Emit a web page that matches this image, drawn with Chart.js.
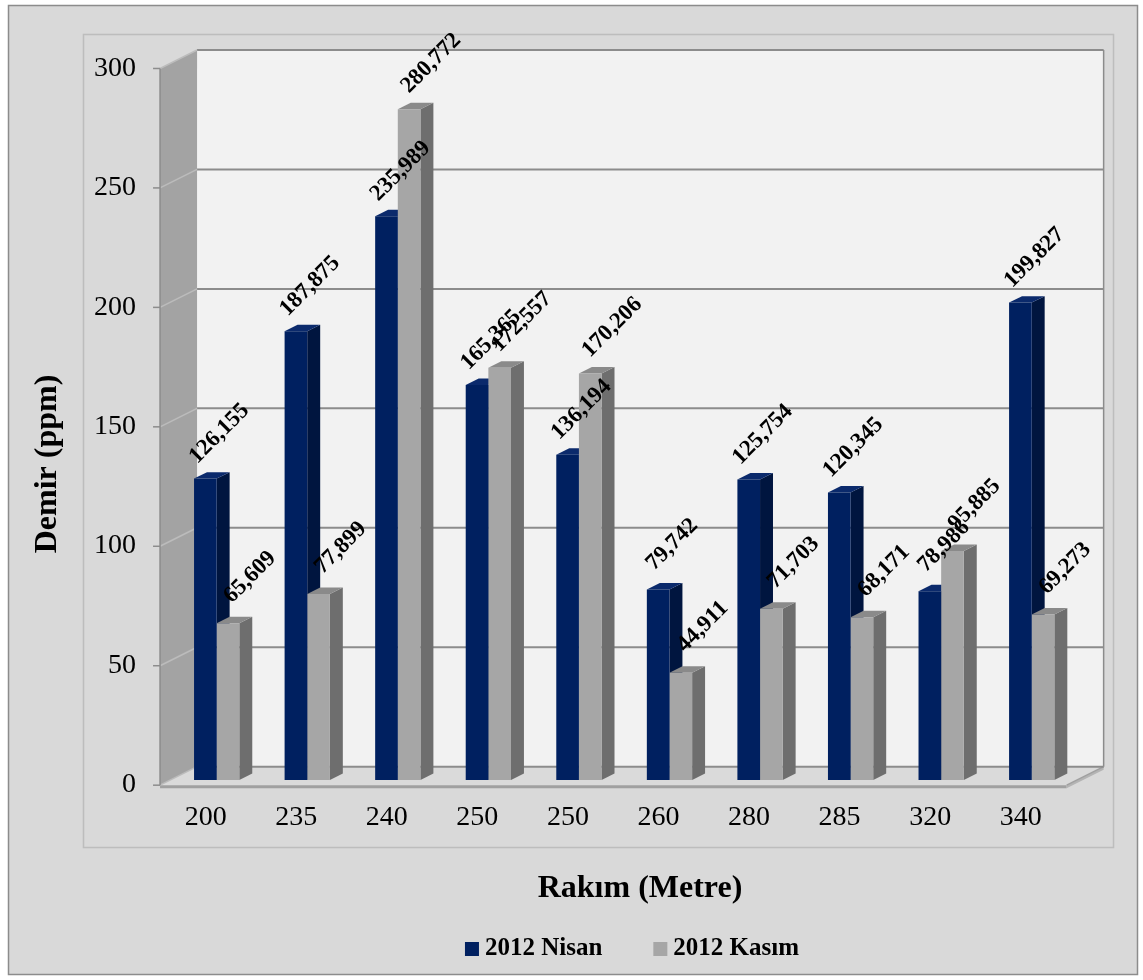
<!DOCTYPE html>
<html>
<head>
<meta charset="utf-8">
<script src="https://cdn.jsdelivr.net/npm/chart.js@4.4.1/dist/chart.umd.min.js"></script>
<style>
  html, body { margin: 0; padding: 0; background: #ffffff; }
  canvas { display: block; }
</style>
</head>
<body>
<canvas id="chart" width="1143" height="980"></canvas>
<script>
// Altitude categories (metres) and iron concentrations (ppm)
const categories = ['200', '235', '240', '250', '250', '260', '280', '285', '320', '340'];
const nisan2012 = [126.155, 187.875, 235.989, 165.365, 136.194, 79.742, 125.754, 120.345, 78.986, 199.827];
const kasim2012 = [65.609, 77.899, 280.772, 172.557, 170.206, 44.911, 71.703, 68.171, 95.885, 69.273];
const seriesNames = ['2012 Nisan', '2012 Kasım'];
const yMin = 0, yMax = 300, yStep = 50;
const xTitle = 'Rakım (Metre)';
const yTitle = 'Demir (ppm)';

const SERIF = '"Liberation Serif", "Times New Roman", serif';

// face colours of each series' columns: front, right side, top
const FACES = [
  { front: '#002060', side: '#00153f', top: '#0b2a6c' },
  { front: '#a6a6a6', side: '#6e6e6e', top: '#8a8a8a' }
];
// where each series' slanted value label sits relative to the column top
const LABEL_SHIFT = [{ x: 14, y: -45 }, { x: 22, y: -46 }];

// oblique projection of the box depth
const DEPTH = { dx: 37, dy: -18.5 };
const BAR_PLANE = 0.28;   // where the columns sit inside the box depth
const BAR_DEPTH = 0.35;   // column depth as a share of the box depth
const FRONT = { x: -BAR_PLANE * DEPTH.dx, y: -BAR_PLANE * DEPTH.dy };
const BACK = { x: (1 - BAR_PLANE) * DEPTH.dx, y: (1 - BAR_PLANE) * DEPTH.dy };

function poly(ctx, pts, fill, stroke, lw) {
  ctx.beginPath();
  ctx.moveTo(pts[0][0], pts[0][1]);
  for (let i = 1; i < pts.length; i++) ctx.lineTo(pts[i][0], pts[i][1]);
  ctx.closePath();
  if (fill) { ctx.fillStyle = fill; ctx.fill(); }
  if (stroke) { ctx.strokeStyle = stroke; ctx.lineWidth = lw || 1; ctx.stroke(); }
}

function fmt(v) {
  return v.toFixed(3).replace('.', ',');
}

const box3d = {
  id: 'box3d',
  beforeDraw(chart) {
    const { ctx, chartArea: a, scales: { y } } = chart;
    ctx.save();
    ctx.fillStyle = '#ffffff';
    ctx.fillRect(0, 0, chart.width, chart.height);
    // chart area and plot area frames
    ctx.fillStyle = '#d9d9d9';
    ctx.fillRect(8, 5, 1130, 970);
    ctx.strokeStyle = '#8c8c8c';
    ctx.lineWidth = 1.5;
    ctx.strokeRect(8.5, 5.5, 1129, 969);
    ctx.strokeStyle = '#bdbdbd';
    ctx.lineWidth = 1.5;
    ctx.strokeRect(83.5, 34.5, 1030, 813);

    const L = a.left - 1, R = a.right;
    const y0 = y.getPixelForValue(yMin), yT = y.getPixelForValue(yMax);

    // back wall
    poly(ctx, [[L + BACK.x, yT + BACK.y], [R + BACK.x, yT + BACK.y], [R + BACK.x, y0 + BACK.y], [L + BACK.x, y0 + BACK.y]], '#f2f2f2');
    // left side wall
    poly(ctx, [[L + FRONT.x, yT + FRONT.y], [L + BACK.x, yT + BACK.y], [L + BACK.x, y0 + BACK.y], [L + FRONT.x, y0 + FRONT.y]], '#a3a3a3');
    // floor slab: top, front edge, right edge
    poly(ctx, [[L + FRONT.x, y0 + FRONT.y], [L + BACK.x, y0 + BACK.y], [R + BACK.x, y0 + BACK.y], [R + FRONT.x, y0 + FRONT.y]], '#dadada');
    poly(ctx, [[L + FRONT.x, y0 + FRONT.y], [R + FRONT.x, y0 + FRONT.y], [R + FRONT.x, y0 + FRONT.y + 3], [L + FRONT.x, y0 + FRONT.y + 3]], '#a0a0a0');
    poly(ctx, [[R + FRONT.x, y0 + FRONT.y], [R + BACK.x, y0 + BACK.y], [R + BACK.x, y0 + BACK.y + 3], [R + FRONT.x, y0 + FRONT.y + 3]], '#b4b4b4');
    ctx.strokeStyle = '#a0a0a0';
    ctx.lineWidth = 1.5;
    ctx.beginPath();
    ctx.moveTo(R + FRONT.x, y0 + FRONT.y);
    ctx.lineTo(R + BACK.x, y0 + BACK.y);
    ctx.stroke();

    // gridlines on the back wall and the side wall, tick marks on the value axis
    y.ticks.forEach(t => {
      const py = y.getPixelForValue(t.value);
      ctx.strokeStyle = '#8c8c8c';
      ctx.lineWidth = 2;
      ctx.beginPath();
      ctx.moveTo(L + BACK.x, py + BACK.y);
      ctx.lineTo(R + BACK.x, py + BACK.y);
      ctx.stroke();
      ctx.strokeStyle = '#bcbcbc';
      ctx.lineWidth = 1.5;
      ctx.beginPath();
      ctx.moveTo(L + FRONT.x, py + FRONT.y);
      ctx.lineTo(L + BACK.x, py + BACK.y);
      ctx.stroke();
      ctx.strokeStyle = '#8c8c8c';
      ctx.lineWidth = 1.5;
      ctx.beginPath();
      ctx.moveTo(L + FRONT.x - 7, py + FRONT.y);
      ctx.lineTo(L + FRONT.x, py + FRONT.y);
      ctx.stroke();
    });
    // back wall right edge and value axis line
    ctx.strokeStyle = '#8c8c8c';
    ctx.lineWidth = 1.5;
    ctx.beginPath();
    ctx.moveTo(R + BACK.x, yT + BACK.y);
    ctx.lineTo(R + BACK.x, y0 + BACK.y);
    ctx.stroke();
    ctx.beginPath();
    ctx.moveTo(L + FRONT.x, yT + FRONT.y);
    ctx.lineTo(L + FRONT.x, y0 + FRONT.y);
    ctx.stroke();

    // axis titles
    ctx.fillStyle = '#000';
    ctx.font = 'bold 32px ' + SERIF;
    ctx.textAlign = 'center';
    ctx.textBaseline = 'alphabetic';
    ctx.fillText(xTitle, 640, 897);
    ctx.save();
    ctx.translate(56, 464);
    ctx.rotate(-Math.PI / 2);
    ctx.fillText(yTitle, 0, 0);
    ctx.restore();

    // legend
    ctx.font = 'bold 25px ' + SERIF;
    ctx.textAlign = 'left';
    const box = 14, gapBox = 6, gapItem = 51;
    const widths = chart.data.datasets.map(d => box + gapBox + ctx.measureText(d.label).width);
    const total = widths.reduce((s, w) => s + w, 0) + gapItem * (widths.length - 1);
    let lx = 632 - total / 2;
    chart.data.datasets.forEach((d, i) => {
      ctx.fillStyle = d.backgroundColor;
      ctx.fillRect(lx, 942, box, box);
      ctx.fillStyle = '#000';
      ctx.fillText(d.label, lx + box + gapBox, 955);
      lx += widths[i] + gapItem;
    });
    ctx.restore();
  },
  beforeDatasetsDraw(chart) {
    // right side and top faces of every column; the library draws the fronts
    const { ctx } = chart;
    const metas = chart.data.datasets.map((d, i) => chart.getDatasetMeta(i));
    const bdx = BAR_DEPTH * DEPTH.dx, bdy = BAR_DEPTH * DEPTH.dy;
    ctx.save();
    for (let j = 0; j < chart.data.labels.length; j++) {
      metas.forEach((meta, i) => {
        const el = meta.data[j];
        const { x, y, base, width } = el.getProps(['x', 'y', 'base', 'width'], true);
        const l = x - width / 2, r = x + width / 2;
        poly(ctx, [[r, y], [r + bdx, y + bdy], [r + bdx, base + bdy], [r, base]], FACES[i].side);
        poly(ctx, [[l, y], [r, y], [r + bdx, y + bdy], [l + bdx, y + bdy]], FACES[i].top);
      });
    }
    ctx.restore();
  },
  afterDatasetsDraw(chart) {
    // value labels, slanted above each column
    const { ctx } = chart;
    ctx.save();
    ctx.fillStyle = '#000';
    ctx.font = 'bold 23px ' + SERIF;
    ctx.textAlign = 'center';
    ctx.textBaseline = 'middle';
    chart.data.datasets.forEach((d, i) => {
      chart.getDatasetMeta(i).data.forEach((el, j) => {
        const { x, y } = el.getProps(['x', 'y'], true);
        ctx.save();
        ctx.translate(x + LABEL_SHIFT[i].x, y + LABEL_SHIFT[i].y);
        ctx.rotate(-Math.PI / 4);
        ctx.fillText(fmt(d.data[j]), 0, 0);
        ctx.restore();
      });
    });
    ctx.restore();
  }
};

new Chart(document.getElementById('chart'), {
  type: 'bar',
  data: {
    labels: categories,
    datasets: [
      { label: seriesNames[0], data: nisan2012, backgroundColor: FACES[0].front },
      { label: seriesNames[1], data: kasim2012, backgroundColor: FACES[1].front }
    ]
  },
  options: {
    responsive: false,
    animation: false,
    devicePixelRatio: 1,
    layout: { padding: { top: 63.3, right: 66, bottom: 0, left: 0 } },
    datasets: { bar: { categoryPercentage: 0.5, barPercentage: 1, borderWidth: 0 } },
    plugins: { legend: { display: false }, tooltip: { enabled: false } },
    scales: {
      x: {
        grid: { display: false, drawTicks: false },
        border: { display: false },
        ticks: { color: '#000', font: { family: SERIF, size: 28 }, padding: 21, labelOffset: -11, maxRotation: 0, autoSkip: false },
        afterFit(s) { s.height = 200; }
      },
      y: {
        min: yMin, max: yMax,
        grid: { display: false, drawTicks: false },
        border: { display: false },
        ticks: { stepSize: yStep, color: '#000', font: { family: SERIF, size: 28 }, padding: 35.4, labelOffset: 5 },
        afterFit(s) { s.width = 171.4; }
      }
    }
  },
  plugins: [box3d]
});
</script>
</body>
</html>
